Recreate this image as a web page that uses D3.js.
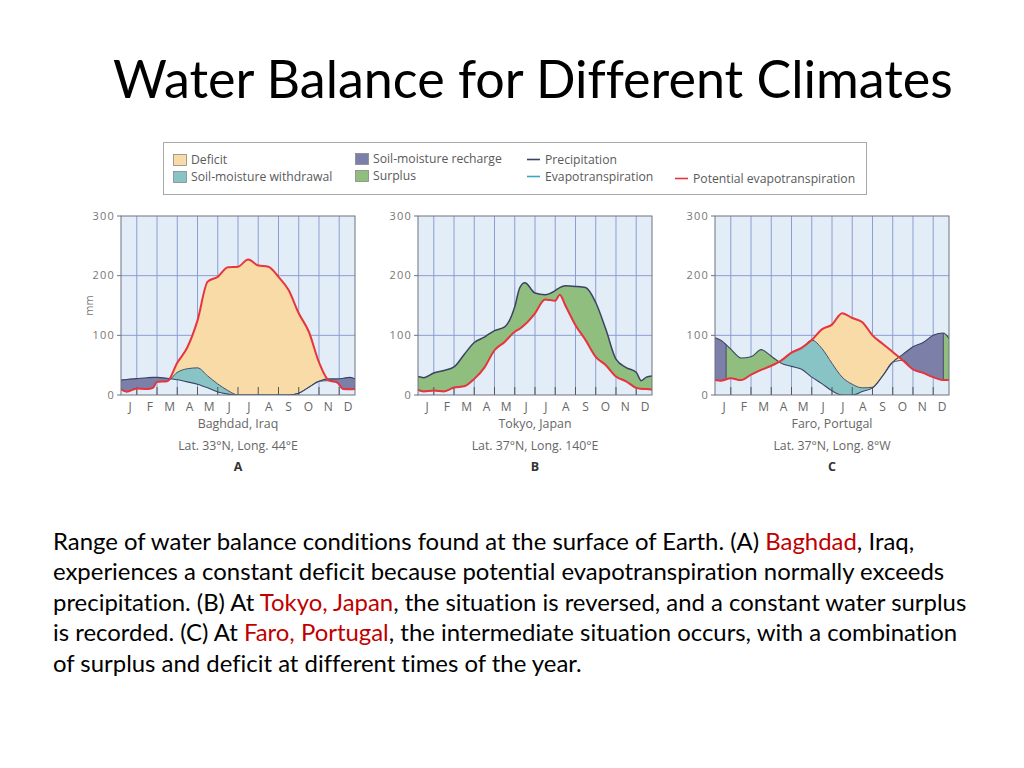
<!DOCTYPE html>
<html><head><meta charset="utf-8">
<script src="https://cdn.jsdelivr.net/npm/d3@7"></script>
<style>body{margin:0;background:#fff;} svg{display:block} text{font-variant-ligatures:none;font-feature-settings:"liga" 0,"dlig" 0;}</style>
</head><body>
<svg id="c" width="1024" height="768"></svg>
<script>
// ---------------- data ----------------
const months = ["J","F","M","A","M","J","J","A","S","O","N","D"];
const yTicks = [0, 100, 200, 300];
const gridMonths = [1,2,3,4,5,6,7,8,9,10,11];

// Baghdad (A) – positions in months, values in mm
const baghdadX  = [0.22,0.5,1,1.5,1.8,2,2.5,3,3.5,4,4.5,5,5.5,6,6.5,7,7.5,8,8.5,9,9.5,10,10.5,10.9,11.2,11.5,11.78];
const baghdadP  = [25,26,27.5,29,29.5,29.5,28,25.5,22,18,12,5,1.5,0,0,0,0,0,0,3,13,23,27,27,28,29.5,27];
const baghdadPE = [9.5,5.6,11,10,12,22,23,54,80,125,190,198,214,215,227,217,215,198,176,137,106,55,24,21,10,9.5,10];
const baghdadAE = [null,null,null,null,null,null,null,38,44,45.5,32,18.5,7.5,0,0,0,0,0,0,3,13,23,null,null,null,null,null];
const baghdadRecharge = [[0,12]];
const baghdadDividers = [];

// Tokyo (B)
const tokyoX  = [0.22,0.5,1,1.5,2,2.5,3,3.5,4,4.5,5,5.25,5.5,6,6.5,7,7.22,7.5,8,8.5,9,9.5,10,10.5,11,11.25,11.5,11.78];
const tokyoP  = [31,29,37,41,47,68,88,97,108,114,148,180,188,171,168,175,180,183,182,180,155,110,60,46,38,24,30,32];
const tokyoPE = [8.5,6,7.5,6,12.5,14.5,27,46,75,89,106,111,118,137,160,158,168,150,117,92,64,50,31,23,12,10.5,10,9];
const tokyoAE = null; // follows potential evapotranspiration all year
const tokyoRecharge = [];
const tokyoDividers = [];

// Faro (C)
const faroX  = [0.22,0.5,1,1.5,2,2.5,3,3.5,4,4.5,5,5.5,6,6.5,7,7.5,8,8.5,9,9.5,10,10.5,11,11.5,11.78];
const faroP  = [96,92,77,62,64,76,65,53,48,43,30,19,7,0,0,6,12,32,55,68,81,88,100,104,95];
const faroPE = [25,24,28,25,34,42,49,58,71,79,92,110,118,137,129,122,100,86,72,58,43,37,30,25,25];
const faroAE = [null,null,null,null,null,null,null,null,null,null,null,78,53,30,18,12,13,32,55,null,null,null,null,null,null];
const faroRecharge = [[0,0.77],[8.5,11.5]];
const faroDividers = [0.77, 11.5];

const legendLeft = [
  {label:"Deficit", key:"deficit"},
  {label:"Soil-moisture withdrawal", key:"withdrawal"},
  {label:"Soil-moisture recharge", key:"recharge"},
  {label:"Surplus", key:"surplus"}
];

// ---------------- styles ----------------
const C = {
  bg:"#e3edf8", grid:"#8c9dd2", frame:"#6e7382",
  deficit:"#f8dba6", withdrawal:"#88c4c6", recharge:"#7c7fa8", surplus:"#8fbe7f",
  p:"#3a4462", pe:"#e8343c", et:"#3aa6c8", text:"#5a5a5a"
};
const chartFont = "'Open Sans', 'DejaVu Sans', sans-serif";

const svg = d3.select("#c");
const defs = svg.append("defs");

// ---------------- title ----------------
const title = svg.append("text")
  .attr("x", 113).attr("y", 98)
  .attr("font-family", "Lato, 'Open Sans', sans-serif")
  .attr("font-size", 50).attr("fill", "#000")
  .text("Water Balance for Different Climates");
{
  const w = title.node().getComputedTextLength();
  title.attr("font-size", 50 * 840 / w);
}

// ---------------- legend ----------------
const lg = svg.append("g").attr("font-family", chartFont).attr("font-size", 12.2).attr("fill", C.text);
lg.append("rect").attr("x", 163.5).attr("y", 142.5).attr("width", 703).attr("height", 52)
  .attr("fill", "#fff").attr("stroke", "#a8a8a8");
const swPos = [[173,154],[173,171],[355,153],[355,170]];
legendLeft.forEach((d, i) => {
  const [x, y] = swPos[i];
  lg.append("rect").attr("x", x + 0.5).attr("y", y + 0.5).attr("width", 13).attr("height", 11)
    .attr("fill", C[d.key]).attr("stroke", "#888").attr("stroke-width", 0.8);
  lg.append("text").attr("x", x + 18).attr("y", y + 6).attr("dy", "0.35em").text(d.label);
});
const lineLegend = [
  {label:"Precipitation", color:C.p, x:527, y:159.5},
  {label:"Evapotranspiration", color:C.et, x:527, y:176.5},
  {label:"Potential evapotranspiration", color:C.pe, x:675, y:178.5}
];
lineLegend.forEach(d => {
  lg.append("line").attr("x1", d.x).attr("x2", d.x + 13).attr("y1", d.y).attr("y2", d.y)
    .attr("stroke", d.color).attr("stroke-width", 1.6);
  lg.append("text").attr("x", d.x + 18).attr("y", d.y).attr("dy", "0.35em").text(d.label);
});

// ---------------- charts ----------------
const charts = [
  {id:"a", left:121, xs:baghdadX, p:baghdadP, pe:baghdadPE, ae:baghdadAE, recharge:baghdadRecharge, dividers:baghdadDividers,
   city:"Baghdad, Iraq", lat:"Lat. 33°N, Long. 44°E", letter:"A", unit:true},
  {id:"b", left:418, xs:tokyoX, p:tokyoP, pe:tokyoPE, ae:tokyoAE, recharge:tokyoRecharge, dividers:tokyoDividers,
   city:"Tokyo, Japan", lat:"Lat. 37°N, Long. 140°E", letter:"B", unit:false},
  {id:"c", left:715, xs:faroX, p:faroP, pe:faroPE, ae:faroAE, recharge:faroRecharge, dividers:faroDividers,
   city:"Faro, Portugal", lat:"Lat. 37°N, Long. 8°W", letter:"C", unit:false}
];

const W = 234, TOP = 216, BOT = 395;
const curve = d3.curveMonotoneX;

charts.forEach(ch => {
  const x = d3.scaleLinear().domain([0.22, 11.78]).range([ch.left, ch.left + W]);
  const y = d3.scaleLinear().domain([0, 300]).range([BOT, TOP]);
  const g = svg.append("g").attr("font-family", chartFont).attr("fill", C.text);

  const pData  = ch.xs.map((v, i) => [v, ch.p[i]]);
  const peData = ch.xs.map((v, i) => [v, ch.pe[i]]);
  const aeData = ch.xs.map((v, i) => [v, (ch.ae && ch.ae[i] != null) ? ch.ae[i] : ch.pe[i]]);

  const above = d3.area().x(d => x(d[0])).y0(TOP - 30).y1(d => y(d[1])).curve(curve);
  const below = d3.area().x(d => x(d[0])).y0(BOT + 30).y1(d => y(d[1])).curve(curve);
  const line  = d3.line().x(d => x(d[0])).y(d => y(d[1])).curve(curve);

  const mk = (name, dPath) => {
    defs.append("clipPath").attr("id", ch.id + name).append("path").attr("d", dPath);
    return `url(#${ch.id}${name})`;
  };
  defs.append("clipPath").attr("id", ch.id + "frame").append("rect")
    .attr("x", x(0.22)).attr("y", y(300)).attr("width", x(11.78) - x(0.22)).attr("height", y(0) - y(300));
  const frameClip = `url(#${ch.id}frame)`;
  const belowP = mk("belowP", below(pData));
  const belowPE = mk("belowPE", below(peData));
  const belowAE = mk("belowAE", below(aeData));
  const rcp = defs.append("clipPath").attr("id", ch.id + "rech");
  ch.recharge.forEach(r => {
    rcp.append("rect").attr("x", x(r[0])).attr("y", TOP - 40)
      .attr("width", x(r[1]) - x(r[0])).attr("height", BOT - TOP + 80);
  });

  // background & grid
  g.append("rect").attr("x", x(0.22)).attr("y", y(300)).attr("width", W).attr("height", y(0) - y(300)).attr("fill", C.bg);
  g.append("g").selectAll("line").data(gridMonths).join("line")
    .attr("x1", d => x(d)).attr("x2", d => x(d)).attr("y1", y(300)).attr("y2", y(0))
    .attr("stroke", C.grid).attr("stroke-width", 1);
  g.append("g").selectAll("line").data(yTicks.filter(t => t > 0 && t < 300)).join("line")
    .attr("x1", x(0.22)).attr("x2", x(11.78)).attr("y1", d => y(d)).attr("y2", d => y(d))
    .attr("stroke", C.grid).attr("stroke-width", 1);

  // fills
  const fills = g.append("g").attr("clip-path", frameClip);
  const gP = fills.append("g").attr("clip-path", belowP);
  gP.append("path").attr("d", above(peData)).attr("fill", C.surplus);
  if (ch.recharge.length)
    gP.append("path").attr("d", above(peData)).attr("fill", C.recharge).attr("clip-path", `url(#${ch.id}rech)`);
  fills.append("g").attr("clip-path", belowPE)
    .append("path").attr("d", above(aeData)).attr("fill", C.deficit);
  fills.append("g").attr("clip-path", belowAE)
    .append("path").attr("d", above(pData)).attr("fill", C.withdrawal);
  const gd = gP.append("g").attr("clip-path", mk("abovePE", above(peData)));
  gd.selectAll("line").data(ch.dividers).join("line")
    .attr("x1", d => x(d)).attr("x2", d => x(d)).attr("y1", y(300)).attr("y2", y(0))
    .attr("stroke", "#4a5068").attr("stroke-width", 1);

  // bottom ticks
  g.append("g").selectAll("line").data(gridMonths).join("line")
    .attr("x1", d => x(d)).attr("x2", d => x(d)).attr("y1", y(0)).attr("y2", y(0) - 8)
    .attr("stroke", "#555").attr("stroke-width", 1);

  // lines
  const lines = g.append("g").attr("clip-path", frameClip).attr("fill", "none");
  lines.append("path").attr("d", line(aeData)).attr("stroke", "#4a5068").attr("stroke-width", 1);
  lines.append("path").attr("d", line(pData)).attr("stroke", C.p).attr("stroke-width", ch.id === "b" ? 1.5 : 1.1);
  lines.append("path").attr("d", line(peData)).attr("stroke", C.pe).attr("stroke-width", 2);

  // frame
  g.append("rect").attr("x", x(0.22)).attr("y", y(300)).attr("width", W).attr("height", y(0) - y(300))
    .attr("fill", "none").attr("stroke", C.frame).attr("stroke-width", 1);

  // y axis ticks and labels
  g.append("g").selectAll("line").data(yTicks).join("line")
    .attr("x1", x(0.22) - 4).attr("x2", x(0.22)).attr("y1", d => y(d)).attr("y2", d => y(d))
    .attr("stroke", C.frame).attr("stroke-width", 1);
  g.append("g").selectAll("text").data(yTicks).join("text")
    .attr("x", x(0.22) - 6).attr("y", d => y(d)).attr("dy", "0.32em")
    .attr("text-anchor", "end").attr("font-size", 11).attr("letter-spacing", 1.2)
    .attr("fill", "#777").text(d => d);
  if (ch.unit) {
    g.append("text").attr("transform", `translate(${ch.left - 32},${y(150)}) rotate(-90)`)
      .attr("text-anchor", "middle").attr("dy", "0.35em").attr("font-size", 11).attr("fill", "#777").text("mm");
  }

  // month labels
  const mx = d3.scalePoint().domain(d3.range(12)).range([ch.left + 9, ch.left + 227]);
  g.append("g").selectAll("text").data(months).join("text")
    .attr("x", (d, i) => mx(i)).attr("y", 407).attr("dy", "0.35em")
    .attr("text-anchor", "middle").attr("font-size", 12).attr("fill", "#666").text(d => d);

  const cx = ch.left + W / 2;
  g.append("text").attr("x", cx).attr("y", 424).attr("dy", "0.35em").attr("text-anchor", "middle")
    .attr("font-size", 12.4).attr("fill", "#666").text(ch.city);
  g.append("text").attr("x", cx).attr("y", 446).attr("dy", "0.35em").attr("text-anchor", "middle")
    .attr("font-size", 12.3).attr("fill", "#666").text(ch.lat);
  g.append("text").attr("x", cx).attr("y", 467).attr("dy", "0.35em").attr("text-anchor", "middle")
    .attr("font-size", 12.5).attr("font-weight", "bold").attr("fill", "#333").text(ch.letter);
});

// ---------------- caption ----------------
const red = "#c00000";
const captionLines = [
  [["Range of water balance conditions found at the surface of Earth. (A) ", null], ["Baghdad", red], [", Iraq,", null]],
  [["experiences a constant deficit because potential evapotranspiration normally exceeds", null]],
  [["precipitation. (B) At ", null], ["Tokyo, Japan", red], [", the situation is reversed, and a constant water surplus", null]],
  [["is recorded. (C) At ", null], ["Faro, Portugal", red], [", the intermediate situation occurs, with a combination", null]],
  [["of surplus and deficit at different times of the year.", null]]
];
const cap = svg.append("g").attr("font-family", "Lato, 'Open Sans', sans-serif").attr("font-size", 22).attr("fill", "#000");
const capTexts = captionLines.map((ln, i) => {
  const t = cap.append("text").attr("x", 53).attr("y", 550 + i * 30.4);
  ln.forEach(([s, col]) => {
    const ts = t.append("tspan").text(s);
    if (col) ts.attr("fill", col);
  });
  return t;
});
{
  const w = capTexts[2].node().getComputedTextLength();
  cap.attr("font-size", 22 * 914 / w);
}
</script>
</body></html>
